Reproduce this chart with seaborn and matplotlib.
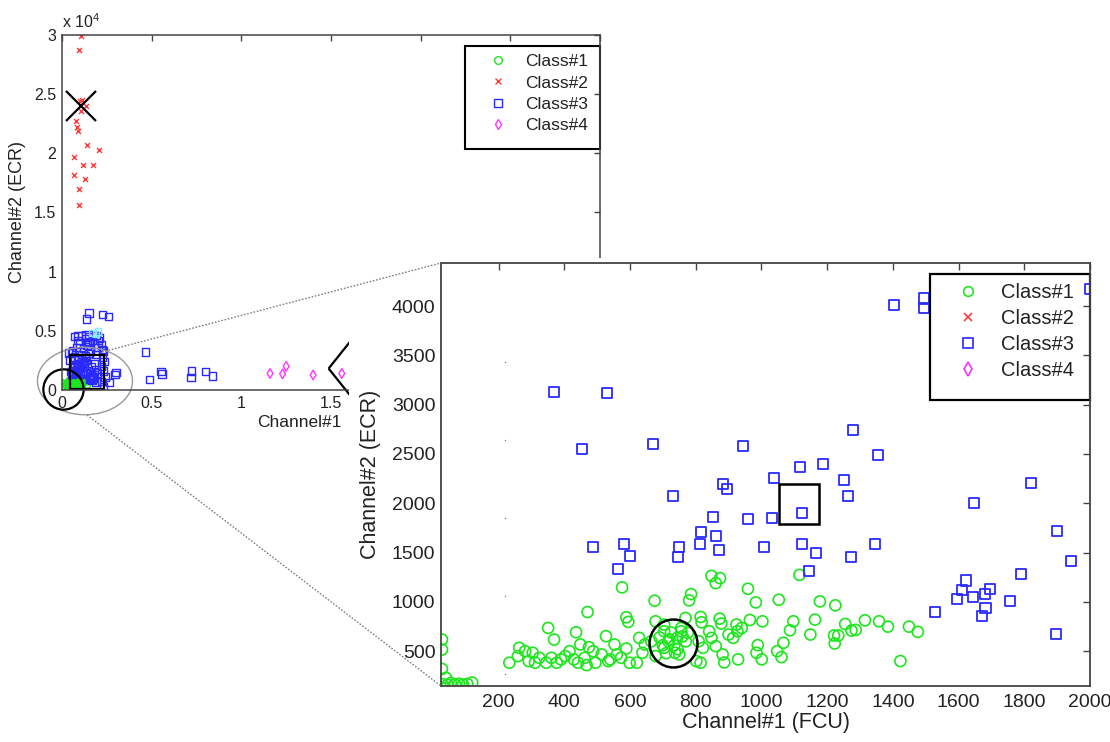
import numpy as np
import seaborn as sns
import matplotlib.pyplot as plt
from matplotlib.patches import Ellipse, Rectangle
from matplotlib.lines import Line2D
from matplotlib.ticker import FuncFormatter

# ---- data (Channel#1 = FCU, Channel#2 = ECR) ----
# Class#1 (all inside the zoomed window)
c1_x = [848, 874, 861, 1116, 576, 959, 675, 786, 780, 983, 1053, 1178, 1225, 471, 589, 595, 678, 815, 818, 873,
        878, 769, 965, 1003, 1097, 1087, 1163, 1255, 1315, 1358, 1385, 1449, 1476, 1274, 1287, 1221, 1234, 1223, 1149, 1067,
        1048, 1061, 1001, 989, 985, 929, 887, 882, 900, 924, 351, 369, 436, 527, 553, 589, 628, 638, 621, 475,
        449, 416, 390, 361, 324, 304, 281, 263, 259, 233, 292, 311, 377, 429, 468, 495, 534, 573, 599, 678,
        704, 717, 743, 756, 704, 776, 809, 822, 841, 848, 704, 737, 750, 802, 815, 861, 927, 914, 940, 756,
        665, 645, 560, 540, 514, 488, 462, 442, 403, 345, 1423, 720, 735, 760, 700, 745, 770, 710, 725, 690,
        28, 28, 28, 40, 30, 45, 55, 68, 80, 92, 105, 120]
c1_y = [1264, 1241, 1190, 1274, 1147, 1133, 1012, 1079, 1015, 995, 1022, 1005, 965, 897, 844, 797, 803, 847, 793, 830,
        780, 837, 817, 803, 803, 712, 820, 776, 813, 803, 749, 749, 696, 709, 716, 659, 659, 578, 669, 585,
        500, 440, 417, 561, 484, 417, 386, 467, 669, 770, 736, 618, 692, 652, 568, 527, 635, 484, 383, 541,
        568, 500, 417, 433, 433, 484, 500, 534, 450, 383, 399, 383, 383, 417, 359, 383, 399, 433, 383, 450,
        534, 601, 635, 736, 702, 686, 601, 534, 702, 635, 770, 484, 467, 399, 383, 551, 702, 635, 736, 702,
        601, 568, 467, 417, 467, 500, 433, 383, 450, 383, 400, 620, 560, 650, 560, 520, 600, 480, 690, 640,
        618, 517, 320, 230, 165, 160, 178, 160, 170, 160, 168, 182]

# Class#2 (only in the full-range view)
c2_x = [1060, 950, 1000, 1100, 1330, 1060, 770, 840, 880, 1390, 2040, 660, 1150, 1730, 660, 1260, 930, 930]
c2_y = [29900, 28700, 24400, 24500, 24000, 23600, 22700, 22200, 21900, 20700, 20300, 19700, 19000, 19000,
        18200, 17800, 17000, 15600]

# Class#3 inside the zoomed window
c3_x = [370, 531, 455, 670, 945, 1280, 1355, 1118, 1188, 1038, 1251, 883, 896, 730, 1264, 1819, 1648, 1125, 853, 958,
        1031, 815, 861, 813, 870, 581, 601, 489, 748, 745, 564, 1009, 1125, 1167, 1272, 1347, 1145, 1901, 1942, 1790,
        1622, 1611, 1594, 1644, 1680, 1697, 1758, 1682, 1670, 1529, 1897, 1404, 1495, 1495, 2000]
c3_y = [3125, 3115, 2546, 2597, 2580, 2745, 2486, 2368, 2395, 2260, 2237, 2196, 2149, 2075, 2075, 2210, 2001, 1904, 1863, 1840,
        1853, 1712, 1668, 1587, 1527, 1591, 1470, 1554, 1557, 1453, 1331, 1554, 1591, 1493, 1453, 1591, 1318, 1715, 1419, 1281,
        1217, 1123, 1032, 1046, 1083, 1130, 1012, 938, 854, 894, 675, 4013, 4077, 3983, 4175]
# Class#3 seen only in the full-range view
c3_far_x = [1500, 2260, 2600, 1370, 4650, 4870, 5530, 5580, 7230, 7190, 8000, 8400, 3000, 2650, 2950, 2260,
            700, 900, 1100, 1300, 1500, 1700, 1900, 2100, 2200, 2300, 2250, 2350, 2200, 2300, 2400, 2200, 2300,
            800, 1000, 1200, 1400, 1600, 1800, 600, 900, 1300, 1700, 2000, 1100, 1500, 1900, 700, 1300]
c3_far_y = [6500, 6400, 6200, 6000, 3200, 900, 1560, 1360, 1600, 1050, 1560, 1200, 1500, 650, 1300, 3400,
            4500, 4600, 4550, 4650, 4500, 4700, 4600, 4400, 3800, 3300, 2800, 2400, 2000, 1600, 1100, 700, 300,
            3600, 3900, 3500, 3800, 3400, 3900, 3300, 4200, 4300, 4200, 3600, 3000, 3100, 3000, 2800, 2900]

# Class#4
c4_x = [11600, 12300, 12500, 14000, 15600]
c4_y = [1400, 1360, 2000, 1270, 1400]

# faint cyan points and grey dots
cyan_x = [1700, 1900, 2000]
cyan_y = [4800, 4750, 4950]
dot_x = [220, 220, 220, 220, 220]
dot_y = [3433, 2642, 1851, 1060, 270]

# class centres (big black markers)
main_circle = (70, 80)
main_cross = (1060, 24000)
main_square = (1410, 1500)
main_diamond = (16170, 1870)
zoom_circle = (731, 588)
zoom_square = (1114, 1991)

labels = ['Class#1', 'Class#2', 'Class#3', 'Class#4']
SCALE = 1e4

GREEN = '#1ee61e'
RED = '#ff3b3b'
BLUE = '#2a2aff'
MAGENTA = '#ff33ff'
TXT = '#222222'
EDGE = '#444444'

sns.set_style('white')
plt.rcParams['font.family'] = ['Liberation Sans', 'DejaVu Sans']
plt.rcParams['mathtext.fontset'] = 'custom'
plt.rcParams['mathtext.rm'] = 'Liberation Sans'

fig = plt.figure(figsize=(11.1, 7.42), dpi=100)
W, H = 1110, 742

ax = fig.add_axes([62 / W, 1 - 390 / H, 538 / W, 355 / H])
ax.set_zorder(0)

# ---- full-range view ----
sns.scatterplot(x=np.array(c1_x) / SCALE, y=np.array(c1_y) / SCALE, marker='o', facecolors='none',
                edgecolor=GREEN, s=19, linewidth=1.0, ax=ax, legend=False)
sns.scatterplot(x=np.array(c2_x) / SCALE, y=np.array(c2_y) / SCALE, marker='x', color=RED,
                s=13, linewidth=1.0, ax=ax, legend=False)
sns.scatterplot(x=np.array(c3_x + c3_far_x) / SCALE, y=np.array(c3_y + c3_far_y) / SCALE, marker='s',
                facecolors='none', edgecolor=BLUE, s=29, linewidth=1.0, ax=ax, legend=False)
sns.scatterplot(x=np.array(cyan_x) / SCALE, y=np.array(cyan_y) / SCALE, marker='s',
                facecolors='none', edgecolor='#7ff0ff', s=20, linewidth=1.0, ax=ax, legend=False)
sns.scatterplot(x=np.array(c4_x) / SCALE, y=np.array(c4_y) / SCALE, marker='d', facecolors='none',
                edgecolor=MAGENTA, s=24, linewidth=1.0, ax=ax, legend=False)

ax.plot(main_circle[0] / SCALE, main_circle[1] / SCALE, marker='o', ms=29, mfc='none', mec='k', mew=1.6, clip_on=False)
ax.plot(main_cross[0] / SCALE, main_cross[1] / SCALE, marker='x', ms=22, mec='k', mew=1.6)
ax.plot(main_square[0] / SCALE, main_square[1] / SCALE, marker='s', ms=24.5, mfc='none', mec='k', mew=1.6)
ax.plot(main_diamond[0] / SCALE, main_diamond[1] / SCALE,
        marker=[(-0.8, 0), (0, 1), (0.8, 0), (0, -1), (-0.8, 0)], ms=43, mfc='none', mec='k', mew=1.6, clip_on=False)

ax.add_patch(Ellipse((0.128, 0.076), 0.53, 0.57, fill=False, edgecolor='#999999', lw=1.0, clip_on=False))

ax.set_xlim(0, 3)
ax.set_ylim(0, 3)
ax.set_xticks(np.arange(0, 3.01, 0.5))
ax.set_yticks(np.arange(0, 3.01, 0.5))
# labels past 1.5 sit under the zoomed view, so they are left blank
ax.xaxis.set_major_formatter(FuncFormatter(lambda v, p: f'{v:g}' if v < 1.75 else ''))
ax.yaxis.set_major_formatter(FuncFormatter(lambda v, p: f'{v:g}'))
ax.tick_params(direction='in', top=True, right=True, length=4, width=1, color=EDGE,
               labelcolor=TXT, labelsize=11.5, pad=4)
for sp in ax.spines.values():
    sp.set_color(EDGE)
    sp.set_linewidth(1.1)
ax.set_xlabel('Channel#1', fontsize=12.5, color=TXT)
ax.xaxis.set_label_coords(0.442, -0.07)
ax.set_ylabel('Channel#2 (ECR)', fontsize=13, color=TXT)
ax.yaxis.set_label_coords(-0.066, 0.5)
ax.text(0.0, 1.01, r'x 10$^{4}$', transform=ax.transAxes, ha='left', va='bottom', fontsize=11.5, color=TXT)


def class_handles(ms, xms, mew):
    return [Line2D([], [], ls='none', marker='o', mfc='none', mec=GREEN, ms=ms, mew=mew),
            Line2D([], [], ls='none', marker='x', mec=RED, ms=xms, mew=mew),
            Line2D([], [], ls='none', marker='s', mfc='none', mec=BLUE, ms=ms, mew=mew),
            Line2D([], [], ls='none', marker='d', mfc='none', mec=MAGENTA, ms=ms * 0.95, mew=mew)]


leg = ax.legend(class_handles(5.5, 4.5, 1.0), labels, loc='upper left', bbox_to_anchor=(0.794, 0.946),
                frameon=False, fontsize=12.5, handlelength=1.0, handletextpad=1.05, labelspacing=0.35,
                borderpad=0, borderaxespad=0)
for t in leg.get_texts():
    t.set_color(TXT)
ax.add_patch(Rectangle((0.749, 0.679), 0.251, 0.29, transform=ax.transAxes, fill=False,
                       edgecolor='k', lw=1.5, clip_on=False))

# white backing of the zoomed view
fig.add_artist(Rectangle((349 / W, 0), 1 - 349 / W, 1 - 258 / H, transform=fig.transFigure,
                         facecolor='white', edgecolor='none', zorder=1))

# ---- zoomed view ----
axi = fig.add_axes([441 / W, 1 - 686 / H, 649 / W, 423 / H])
axi.set_zorder(2)
sns.scatterplot(x=c1_x, y=c1_y, marker='o', facecolors='none', edgecolor=GREEN, s=63, linewidth=1.2,
                ax=axi, legend=False)
sns.scatterplot(x=c3_x, y=c3_y, marker='s', facecolors='none', edgecolor=BLUE, s=52, linewidth=1.3,
                ax=axi, legend=False)
sns.scatterplot(x=dot_x, y=dot_y, marker='.', color='#777777', s=4, linewidth=0, ax=axi, legend=False)
axi.plot(*zoom_circle, marker='o', ms=34.5, mfc='none', mec='k', mew=1.8)
axi.plot(*zoom_square, marker='s', ms=29, mfc='none', mec='k', mew=1.8)

axi.set_xlim(25, 2000)
axi.set_ylim(147, 4437)
axi.set_xticks(np.arange(200, 2001, 200))
axi.set_yticks(np.arange(500, 4001, 500))
axi.tick_params(direction='in', top=True, right=True, length=5, width=1, color=EDGE,
                labelcolor=TXT, labelsize=14)
axi.tick_params(axis='x', pad=6)
axi.tick_params(axis='y', pad=4)
for sp in axi.spines.values():
    sp.set_color(EDGE)
    sp.set_linewidth(1.3)
axi.set_xlabel('Channel#1 (FCU)', fontsize=15.5, color=TXT)
axi.xaxis.set_label_coords(0.5, -0.062)
axi.set_ylabel('Channel#2 (ECR)', fontsize=15.5, color=TXT)
axi.yaxis.set_label_coords(-0.092, 0.5)

leg2 = axi.legend(class_handles(7, 5.5, 1.2), labels, loc='upper left', bbox_to_anchor=(0.797, 0.9534),
                  frameon=False, fontsize=14.5, handlelength=1.0, handletextpad=1.14, labelspacing=0.35,
                  borderpad=0, borderaxespad=0)
for t in leg2.get_texts():
    t.set_color(TXT)
axi.add_patch(Rectangle((0.753, 0.675), 0.247, 0.298, transform=axi.transAxes, fill=False,
                        edgecolor='k', lw=1.6, clip_on=False))

# dotted zoom guides
for (x0, y0), (x1, y1) in [((102, 352), (441, 263)), ((87, 415), (441, 686))]:
    fig.add_artist(Line2D([x0 / W, x1 / W], [1 - y0 / H, 1 - y1 / H], transform=fig.transFigure,
                          color='#808080', lw=1.0, ls=(0, (1.2, 1.2)), zorder=3))

fig.savefig('out.png', dpi=100)
